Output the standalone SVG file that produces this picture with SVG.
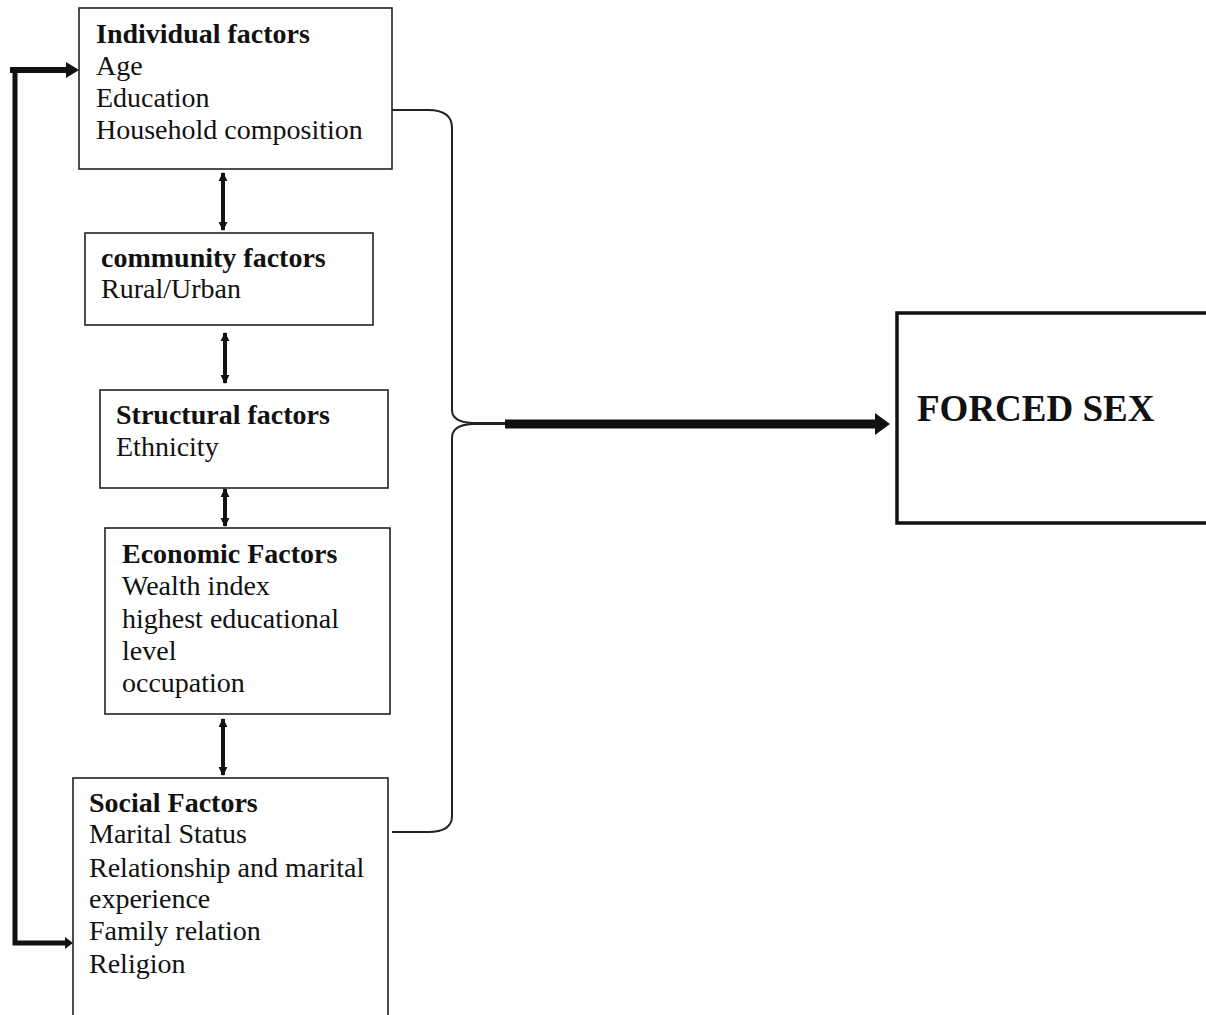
<svg xmlns="http://www.w3.org/2000/svg" width="1206" height="1015" viewBox="0 0 1206 1015">
<style>
.box{fill:#fff;stroke:#222;stroke-width:1.6}
.t{font-family:"Liberation Serif","Times New Roman",serif;font-size:28px;fill:#111}
.b{font-weight:bold}
.dbl{stroke:#111;stroke-width:4;fill:none}
</style>
<defs>
<marker id="ah" viewBox="0 0 10 10" refX="9" refY="5" markerWidth="9" markerHeight="11" markerUnits="userSpaceOnUse" orient="auto-start-reverse">
<path d="M0,0 L10,5 L0,10 Z" fill="#111"/>
</marker>
</defs>
<rect width="1206" height="1015" fill="#fff"/>
<g id="connectors">
<line class="dbl" x1="223" y1="173" x2="223" y2="230" marker-start="url(#ah)" marker-end="url(#ah)"/>
<line class="dbl" x1="225" y1="333" x2="225" y2="383" marker-start="url(#ah)" marker-end="url(#ah)"/>
<line class="dbl" x1="225" y1="489" x2="225" y2="526" marker-start="url(#ah)" marker-end="url(#ah)"/>
<line class="dbl" x1="223" y1="719" x2="223" y2="775" marker-start="url(#ah)" marker-end="url(#ah)"/>
<path d="M66 943 H15 V70" fill="none" stroke="#111" stroke-width="5"/>
<polygon points="65,937 73,943 65,949" fill="#111"/>
<line x1="10" y1="70" x2="68" y2="70" stroke="#111" stroke-width="6"/>
<polygon points="66,62 79,70 66,78" fill="#111"/>
<path d="M392 110 H428 Q452 110 452 128 V410 Q452 422 472 423 H505" fill="none" stroke="#222" stroke-width="2"/>
<path d="M505 424 H472 Q452 425 452 438 V816 Q452 832 428 832 H392" fill="none" stroke="#222" stroke-width="2"/>
<line x1="505" y1="424" x2="878" y2="424" stroke="#111" stroke-width="9"/>
<polygon points="875,413 890,424 875,435" fill="#111"/>
</g>
<g id="individual">
<rect class="box" x="79" y="8" width="313" height="161"/>
<text class="t b" x="96" y="43">Individual factors</text>
<text class="t" x="96" y="75">Age</text>
<text class="t" x="96" y="107">Education</text>
<text class="t" x="96" y="139">Household composition</text>
</g>
<g id="community">
<rect class="box" x="85" y="233" width="288" height="92"/>
<text class="t b" x="101" y="267">community factors</text>
<text class="t" x="101" y="298">Rural/Urban</text>
</g>
<g id="structural">
<rect class="box" x="100" y="390" width="288" height="98"/>
<text class="t b" x="116" y="424">Structural factors</text>
<text class="t" x="116" y="456">Ethnicity</text>
</g>
<g id="economic">
<rect class="box" x="105" y="528" width="285" height="186"/>
<text class="t b" x="122" y="563">Economic Factors</text>
<text class="t" x="122" y="595">Wealth index</text>
<text class="t" x="122" y="628">highest educational</text>
<text class="t" x="122" y="660">level</text>
<text class="t" x="122" y="692">occupation</text>
</g>
<g id="social">
<rect class="box" x="73" y="778" width="315" height="260"/>
<text class="t b" x="89" y="812">Social Factors</text>
<text class="t" x="89" y="843">Marital Status</text>
<text class="t" x="89" y="877">Relationship and marital</text>
<text class="t" x="89" y="908">experience</text>
<text class="t" x="89" y="940">Family relation</text>
<text class="t" x="89" y="973">Religion</text>
</g>
<g id="forced-sex">
<rect x="897" y="313" width="330" height="210" fill="#fff" stroke="#111" stroke-width="3.5"/>
<text class="t b" x="917" y="421" style="font-size:37px">FORCED SEX</text>
</g>
</svg>
